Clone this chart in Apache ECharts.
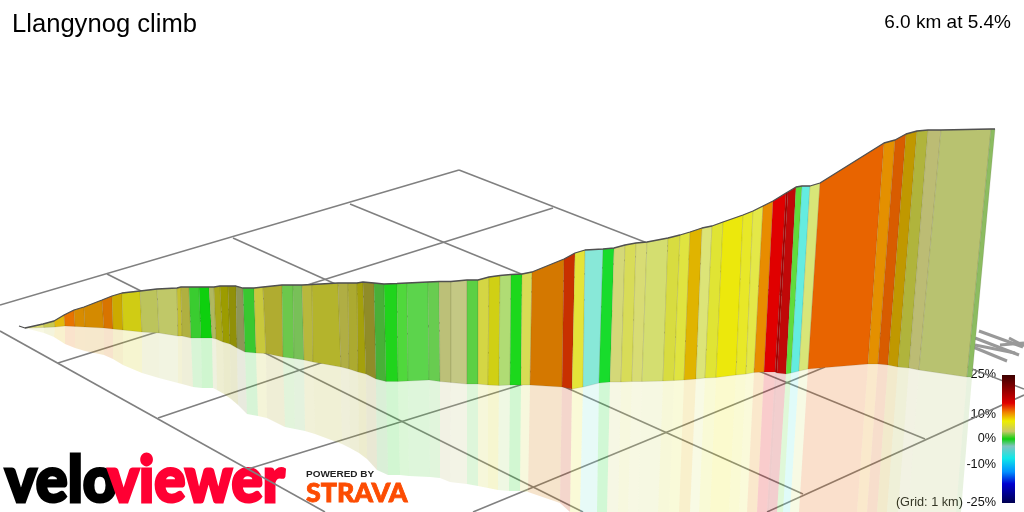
<!DOCTYPE html>
<html>
<head>
<meta charset="utf-8">
<title>Llangynog climb</title>
<style>
  html, body { margin: 0; padding: 0; background: #fff; }
  #chart { width: 1024px; height: 512px; }
</style>
<script src="https://cdn.jsdelivr.net/npm/echarts@6/dist/echarts.min.js"></script>
</head>
<body>
<div id="chart"></div>
<script>
// one edge per gradient change, left to right along the climb
const topX = [25,43,54,64,74,84,102,112,122,140,157,177,181,189,199,209,214,220,228,236,243,254,263,282,293,302,312,338,348,357,363,374,384,397,407,428,439,451,467,478,489,500,511,522,532,564,575,585,603,614,625,636,647,668,680,690,702,712,723,743,753,763,773,786,788,796,802,810,820,884,895,906,917,928,941,991,995];
const topY = [328,324,321,315,310,307,300,296,293,291,289,288,287,287,287,287,287,286,286,286,288,288,287,285,285,285,284.5,283,283,283,282,283,284,283.5,283,282,281.5,281.5,280,280,277,275.5,274.5,274,272,259,253,250,249,248,245,243,242,238,235,232,228,226,222,215,211,206,201,193,192,187,186,186,183,143,140,134,131,130,130,129,129];
const baseX = [25,44,55,65,75,85,104,113,123,142,159,178,182,191,201,212,216,223,230,237,245,256,266,283,294,304,313,341,349,358,366,376,386,398,408,429,440,451,467,478,488,499,510,521,530,562,572,583,599,610,621,632,642,663,674,684,696,705,716,736,746,754,764,775,777,786,791,799,808,868,878,888,898,909,919,967,972];
const baseY = [328,327.5,327,326,326.5,327,328,329,330,332,333,336,336,338,338,338,339,342,344,348,352,353,353.5,357,358.5,360,362,367,369,372,374,379,381.5,381.5,381,380,381.5,382.5,384,384,385,385.5,385,385,385,387,389,387,383,382,382,381.5,381.5,381,380.5,380,379,378,377.5,375,374,372.5,372,372,373,374,373,371,369,364,364,365,367,368,370,377,377];
const shadowX = [25,44,54,65,75,85,104,113,123,142,159,178,182,193,202,213,217,224,231,238,247,258,267,285,295,305,315,342,350,359,367,377,388,400,409,430,440,450,467,478,488,498,509,520,528,560,570,580,597,607,618,628,638,658,669,679,690,699,710,729,739,747,757,767,769,777,783,790,799,857,867,877,887,898,908,956,961];
const shadowY = [328,333,337,344,348,351,355,359,365,373,378,383,384,387,388,388,390,394,399,405,414,416,418,427,429,431,434,444,448,453,459,470,475,475,476,477,478,482,484,486,488,490,491,491,492,503,512,512,512,512,512,512,512,512,512,512,512,512,512,512,512,512,512,512,512,512,512,512,512,512,512,512,512,512,512,512,512];
const sliceColors = ['#dcdc6c','#c8c850','#e2b90a','#e87400','#d88c00','#d48a00','#d87400','#ccaa00','#d0cc14','#bcc45c','#c0c868','#c4c030','#b0b040','#3acc30','#0ed00e','#b0b860','#a8a818','#9c9c00','#909008','#8e9658','#38c830','#c8c83c','#b0ac30','#6cc84c','#78c058','#b8b83c','#b4b42c','#b0ae44','#acaa30','#a4a00c','#908c28','#48b038','#20d41c','#50d83c','#5cd44c','#68cc50','#bcc078','#c4c884','#5cd044','#d4d644','#d0d014','#b0dc74','#1cd81c','#d8dc54','#d47800','#c83000','#e4e438','#88e8d8','#18dc2c','#d4d878','#d8dc58','#d8dc74','#d4de70','#d8dc40','#e0e440','#e0b400','#dce478','#e0e434','#ece80c','#e8e828','#e4e848','#e88c00','#e00000','#a80000','#c00808','#60dc3c','#64ece0','#d8e678','#e86400','#e49000','#d85c00','#c09800','#b0b43c','#bcbc74','#b8c270','#8cbc60'];

// ground grid, 1 km squares: [x1, y1, x2, y2]
const gridLines = [
  [459,170,1024,389],[350,204,925,439],[233,238,803,494],[107,274,583,512],[0,331,325,512],
  [0,305,459,170],[58,363,553,208],[158,418,670,245],[248,469,530,382],[473,512,825,367],[767,512,1024,395]
];
// the stray road marks off to the right
const roadLines = [
  [979,331,1023,347],[975,338,1019,355],[973,347,1007,361],[975,345,1015,353],[1009,338,1024,346],[1000,345,1024,343]
];

const legendStops = [
  [0,'#3c0000'],[0.18,'#c00000'],[0.22,'#e00000'],[0.29,'#f08000'],[0.36,'#eeee00'],[0.44,'#c8c868'],
  [0.5,'#10d010'],[0.556,'#80c4c0'],[0.65,'#10e8e8'],[0.757,'#0090ff'],[0.85,'#0000d0'],[1,'#000050']
];
const legendBox = [1002,375,1015,503];
const legendTicks = [['25%',374],['10%',414],['0%',438],['-10%',464],['(Grid: 1 km) -25%',502]];

const startStub = [[19,326],[25,328]];

const slices = sliceColors.map((c, i) => [i]);

const poly = (api, pts) => pts.map(p => api.coord(p));

const chart = echarts.init(document.getElementById('chart'), null, { renderer: 'canvas' });

const lineSeries = (data, color, width) => ({
  type: 'custom',
  coordinateSystem: 'cartesian2d',
  silent: true,
  data: data,
  encode: { x: [0, 2], y: [1, 3] },
  renderItem: (params, api) => {
    const a = api.coord([api.value(0), api.value(1)]);
    const b = api.coord([api.value(2), api.value(3)]);
    return {
      type: 'line',
      shape: { x1: a[0], y1: a[1], x2: b[0], y2: b[1] },
      style: { stroke: color, lineWidth: width, fill: null }
    };
  }
});

chart.setOption({
  animation: false,
  backgroundColor: '#fff',
  grid: { left: 0, right: 0, top: 0, bottom: 0 },
  xAxis: { type: 'value', min: 0, max: 1024, show: false },
  yAxis: { type: 'value', min: 0, max: 512, inverse: true, show: false },
  series: [
    lineSeries(gridLines, '#808080', 1.6),
    lineSeries(roadLines, '#999999', 3),
    {
      // reflection on the ground
      type: 'custom',
      silent: true,
      data: slices,
      renderItem: (params, api) => {
        const i = api.value(0), j = i + 1;
        return {
          type: 'polygon',
          shape: { points: poly(api, [[baseX[i], baseY[i]], [baseX[j], baseY[j]], [shadowX[j], shadowY[j]], [shadowX[i], shadowY[i]]]) },
          style: { fill: sliceColors[i], opacity: 0.2 }
        };
      }
    },
    {
      // the wall
      type: 'custom',
      silent: true,
      data: slices,
      renderItem: (params, api) => {
        const i = api.value(0), j = i + 1;
        return {
          type: 'polygon',
          shape: { points: poly(api, [[topX[i], topY[i]], [topX[j], topY[j]], [baseX[j], baseY[j]], [baseX[i], baseY[i]]]) },
          style: { fill: sliceColors[i], stroke: 'rgba(60,60,40,0.12)', lineWidth: 1 }
        };
      }
    },
    {
      type: 'line',
      silent: true,
      showSymbol: false,
      data: startStub.concat(topX.map((x, i) => [x, topY[i]])),
      lineStyle: { color: '#505050', width: 1.3 }
    },
    {
      // gradient scale
      type: 'custom',
      silent: true,
      data: [legendBox],
      renderItem: (params, api) => {
        const a = api.coord([api.value(0), api.value(1)]);
        const b = api.coord([api.value(2), api.value(3)]);
        return {
          type: 'rect',
          shape: { x: a[0], y: a[1], width: b[0] - a[0], height: b[1] - a[1] },
          style: {
            fill: new echarts.graphic.LinearGradient(0, 0, 0, 1, legendStops.map(s => ({ offset: s[0], color: s[1] })))
          }
        };
      }
    }
  ],
  graphic: [
    { type: 'text', left: 12, top: 12, style: { text: 'Llangynog climb', font: '25.6px "Liberation Sans"', fill: '#000' } },
    { type: 'text', right: 13, top: 13, style: { text: '6.0 km at 5.4%', font: '19px "Liberation Sans"', fill: '#000' } }
  ].concat(legendTicks.map(t => ({
    type: 'text', x: 996, y: t[1], style: { text: t[0], font: '12.7px "Liberation Sans"', fill: '#111', align: 'right', verticalAlign: 'middle' }
  }))).concat([
    { type: 'text', x: 5, y: 449, scaleX: 0.93, style: { text: 'velo', font: '900 64px Lato', fill: '#000', stroke: '#000', lineWidth: 3 } },
    { type: 'text', x: 108, y: 449, scaleX: 0.91, style: { text: 'viewer', font: '900 64px Lato', fill: '#ff0033', stroke: '#ff0033', lineWidth: 3 } },
    { type: 'text', x: 306, y: 469, scaleX: 1.05, style: { text: 'POWERED BY', font: 'bold 9.5px "Liberation Sans"', fill: '#222' } },
    { type: 'text', x: 306, y: 481, scaleX: 1.03, style: { text: 'STRAVA', font: '900 26px Lato', fill: '#fc4c02', stroke: '#fc4c02', lineWidth: 0.8 } }
  ])
});
</script>
</body>
</html>
